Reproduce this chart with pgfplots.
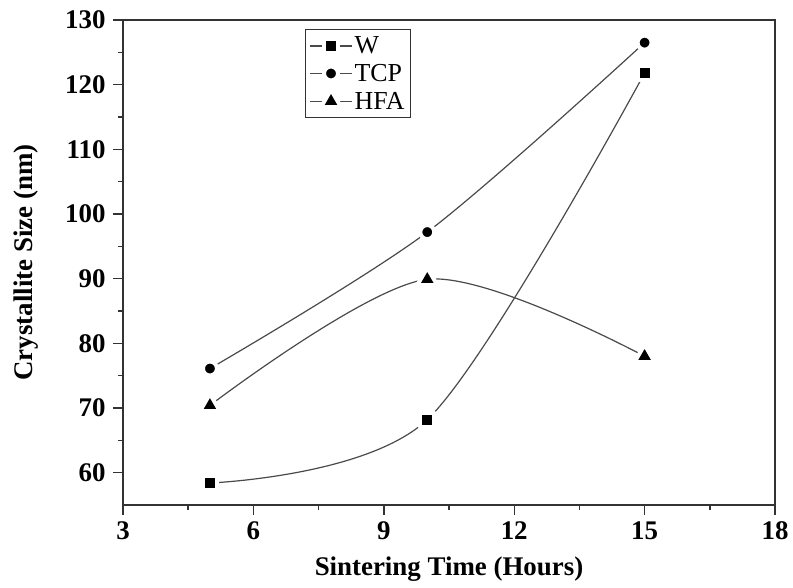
\documentclass[border=0pt]{standalone}
\usepackage{fontspec}
\setmainfont{Liberation Serif}
\usepackage{pgfplots}
\pgfplotsset{compat=1.18}
\usetikzlibrary{calc}
\definecolor{axisgray}{HTML}{333333}
\definecolor{linegray}{HTML}{4A4A4A}
\begin{document}
\begin{tikzpicture}
\begin{axis}[
  scale only axis, width=652bp, height=485bp,
  xmin=3, xmax=18, ymin=55, ymax=130,
  xtick={3,6,9,12,15,18}, ytick={60,70,...,130},
  minor x tick num=1, minor y tick num=1,
  tick align=outside, xtick pos=bottom, ytick pos=left,
  major tick length=10bp, minor tick length=5bp,
  axis line style={axisgray, line width=1.6bp},
  tick style={axisgray, line width=1.4bp},
  /pgf/number format/assume math mode=true,
  ticklabel style={font=\fontsize{27}{30}\selectfont\bfseries},
  xticklabel style={yshift=-3bp},
  yticklabel style={xshift=-4bp},
  label style={font=\fontsize{27}{30}\selectfont\bfseries},
  xlabel={Sintering Time (Hours)}, ylabel={Crystallite Size (nm)},
  xlabel style={yshift=-10bp},
  ylabel style={yshift=20bp},
  legend style={at={(0.279,0.981)}, anchor=north west, draw=axisgray, line width=1bp,
    font=\fontsize{26}{28}\selectfont, inner xsep=4bp, inner ysep=5bp,
    row sep=5bp, fill=white},
  legend cell align=left,
  legend image code/.code={\draw[mark repeat=2,mark phase=2,#1] plot coordinates {(0bp,0bp)(21bp,0bp)(42bp,0bp)};},
]
\addplot[linegray, line width=1.2bp, smooth, mark=square*, mark size=7bp,
  mark options={fill=black, draw=white, line width=4bp, line join=round}]
  coordinates {(5,58.4) (10,68.2) (15,121.8)};
\addlegendentry{W}
\addplot[linegray, line width=1.2bp, smooth, mark=*, mark size=7bp,
  mark options={fill=black, draw=white, line width=4bp, line join=round}]
  coordinates {(5,76.1) (10,97.2) (15,126.5)};
\addlegendentry{TCP}
\addplot[linegray, line width=1.2bp, smooth, mark=triangle*, mark size=11.5bp,
  mark options={fill=black, draw=white, line width=4bp, line join=round}]
  coordinates {(5,70.4) (10,89.9) (15,78.0)};
\addlegendentry{HFA}
\end{axis}
\path ($(current axis.south west)+(-123bp,-83bp)$) rectangle ($(current axis.north east)+(18bp,20bp)$);
\end{tikzpicture}
\end{document}
